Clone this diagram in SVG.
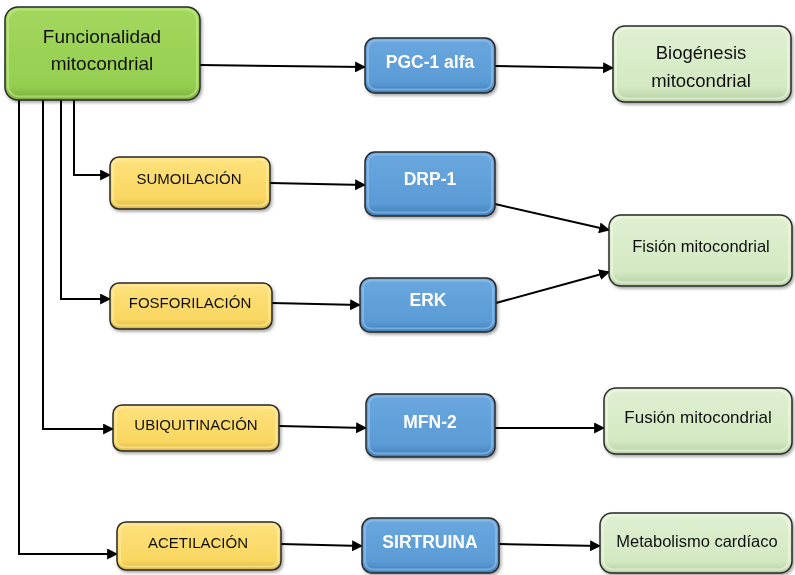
<svg xmlns="http://www.w3.org/2000/svg" width="795" height="575" viewBox="0 0 795 575">
<defs>
<style>
.box{stroke:#2a2a2a;stroke-width:1.5}
.inner{fill:none;stroke-width:2;stroke-opacity:0.55}
.t{font-family:"Liberation Sans",Arial,sans-serif;text-anchor:middle;dominant-baseline:central}
.dk{fill:#111}
.wt{fill:#fff;font-weight:bold}
.ca{fill:none;stroke:#000;stroke-width:2;marker-end:url(#ah)}
</style>
<marker id="ah" viewBox="0 0 10 10" refX="9" refY="5" markerWidth="5.5" markerHeight="5.5" orient="auto" markerUnits="strokeWidth">
<path d="M0,0 L10,5 L0,10 z" fill="#000"/>
</marker>
<filter id="sh" x="-10%" y="-10%" width="125%" height="130%">
<feDropShadow dx="1.5" dy="2" stdDeviation="1.5" flood-color="#000" flood-opacity="0.35"/>
</filter>
<linearGradient id="gMain" x1="0" y1="0" x2="0" y2="1">
<stop offset="0" stop-color="#a3d85e"/><stop offset="0.85" stop-color="#94ce50"/><stop offset="1" stop-color="#7aad3a"/>
</linearGradient>
<linearGradient id="gBlue" x1="0" y1="0" x2="0" y2="1">
<stop offset="0" stop-color="#6aa7df"/><stop offset="0.8" stop-color="#5b9bd5"/><stop offset="1" stop-color="#3f7fb8"/>
</linearGradient>
<linearGradient id="gYel" x1="0" y1="0" x2="0" y2="1">
<stop offset="0" stop-color="#ffe27e"/><stop offset="0.8" stop-color="#f8d660"/><stop offset="1" stop-color="#d9b540"/>
</linearGradient>
<linearGradient id="gLg" x1="0" y1="0" x2="0" y2="1">
<stop offset="0" stop-color="#e0f0d2"/><stop offset="0.8" stop-color="#d3e9c2"/><stop offset="1" stop-color="#b5cfa2"/>
</linearGradient>
</defs>
<rect width="795" height="575" fill="#fff"/>

<g id="connectors">
<path class="ca" d="M200,65 L365,67"/>
<path class="ca" d="M495,66 L613,68"/>
<path class="ca" d="M74,100 L74,175 L110,175"/>
<path class="ca" d="M61,100 L61,299 L110,299"/>
<path class="ca" d="M43,100 L43,429 L113,429"/>
<path class="ca" d="M19,100 L19,554 L117,554"/>
<path class="ca" d="M270,183 L365,185"/>
<path class="ca" d="M272,303 L360,305"/>
<path class="ca" d="M279,426 L366,428"/>
<path class="ca" d="M281,544 L362,546"/>
<path class="ca" d="M495,204 L609,230"/>
<path class="ca" d="M496,303 L609,272"/>
<path class="ca" d="M495,428 L604,428"/>
<path class="ca" d="M499,544 L600,546"/>
</g>

<g id="n-main" filter="url(#sh)">
<rect class="box" x="5" y="7" width="195" height="93" rx="13" fill="url(#gMain)"/>
<rect class="inner" x="8" y="9.5" width="189" height="87" rx="11" stroke="#c8ec98"/>
<text class="t dk" x="102" y="36" font-size="19">Funcionalidad</text>
<text class="t dk" x="102" y="63" font-size="19">mitocondrial</text>
</g>

<g id="n-pgc" filter="url(#sh)">
<rect class="box" x="365" y="38" width="130" height="55" rx="10" fill="url(#gBlue)"/>
<rect class="inner" x="368" y="40.5" width="124" height="49" rx="8" stroke="#9cc7ee"/>
<text class="t wt" x="430" y="62" font-size="17.5">PGC-1 alfa</text>
</g>

<g id="n-bio" filter="url(#sh)">
<rect class="box" x="613" y="26" width="178" height="76" rx="12" fill="url(#gLg)"/>
<rect class="inner" x="616" y="28.5" width="172" height="70" rx="10" stroke="#f2faea"/>
<text class="t dk" x="701" y="52" font-size="18.5">Biogénesis</text>
<text class="t dk" x="701" y="80" font-size="18.5">mitocondrial</text>
</g>

<g id="n-sumo" filter="url(#sh)">
<rect class="box" x="110" y="157" width="160" height="52" rx="9" fill="url(#gYel)"/>
<rect class="inner" x="113" y="159.5" width="154" height="46" rx="7" stroke="#fff0b0"/>
<text class="t dk" x="189" y="178" font-size="15">SUMOILACIÓN</text>
</g>

<g id="n-fosfo" filter="url(#sh)">
<rect class="box" x="110" y="283" width="162" height="46" rx="9" fill="url(#gYel)"/>
<rect class="inner" x="113" y="285.5" width="156" height="40" rx="7" stroke="#fff0b0"/>
<text class="t dk" x="190" y="302" font-size="15">FOSFORILACIÓN</text>
</g>

<g id="n-ubiq" filter="url(#sh)">
<rect class="box" x="113" y="405" width="166" height="46" rx="9" fill="url(#gYel)"/>
<rect class="inner" x="116" y="407.5" width="160" height="40" rx="7" stroke="#fff0b0"/>
<text class="t dk" x="196" y="424" font-size="15">UBIQUITINACIÓN</text>
</g>

<g id="n-acet" filter="url(#sh)">
<rect class="box" x="117" y="522" width="164" height="48" rx="9" fill="url(#gYel)"/>
<rect class="inner" x="120" y="524.5" width="158" height="42" rx="7" stroke="#fff0b0"/>
<text class="t dk" x="198" y="542" font-size="15">ACETILACIÓN</text>
</g>

<g id="n-drp" filter="url(#sh)">
<rect class="box" x="365" y="152" width="130" height="64" rx="10" fill="url(#gBlue)"/>
<rect class="inner" x="368" y="154.5" width="124" height="58" rx="8" stroke="#9cc7ee"/>
<text class="t wt" x="430" y="179" font-size="17.5">DRP-1</text>
</g>

<g id="n-erk" filter="url(#sh)">
<rect class="box" x="360" y="278" width="136" height="54" rx="10" fill="url(#gBlue)"/>
<rect class="inner" x="363" y="280.5" width="130" height="48" rx="8" stroke="#9cc7ee"/>
<text class="t wt" x="428" y="300" font-size="17.5">ERK</text>
</g>

<g id="n-mfn" filter="url(#sh)">
<rect class="box" x="366" y="394" width="129" height="63" rx="10" fill="url(#gBlue)"/>
<rect class="inner" x="369" y="396.5" width="123" height="57" rx="8" stroke="#9cc7ee"/>
<text class="t wt" x="430" y="422" font-size="17.5">MFN-2</text>
</g>

<g id="n-sirt" filter="url(#sh)">
<rect class="box" x="362" y="518" width="137" height="55" rx="10" fill="url(#gBlue)"/>
<rect class="inner" x="365" y="520.5" width="131" height="49" rx="8" stroke="#9cc7ee"/>
<text class="t wt" x="430" y="542" font-size="17.5">SIRTRUINA</text>
</g>

<g id="n-fision" filter="url(#sh)">
<rect class="box" x="609" y="215" width="183" height="71" rx="12" fill="url(#gLg)"/>
<rect class="inner" x="612" y="217.5" width="177" height="65" rx="10" stroke="#f2faea"/>
<text class="t dk" x="701" y="246" font-size="16.5">Fisión mitocondrial</text>
</g>

<g id="n-fusion" filter="url(#sh)">
<rect class="box" x="604" y="388" width="188" height="66" rx="12" fill="url(#gLg)"/>
<rect class="inner" x="607" y="390.5" width="182" height="60" rx="10" stroke="#f2faea"/>
<text class="t dk" x="698" y="417" font-size="17">Fusión mitocondrial</text>
</g>

<g id="n-metab" filter="url(#sh)">
<rect class="box" x="600" y="513" width="192" height="60" rx="12" fill="url(#gLg)"/>
<rect class="inner" x="603" y="515.5" width="186" height="54" rx="10" stroke="#f2faea"/>
<text class="t dk" x="697" y="541" font-size="16.5">Metabolismo cardíaco</text>
</g>
</svg>
